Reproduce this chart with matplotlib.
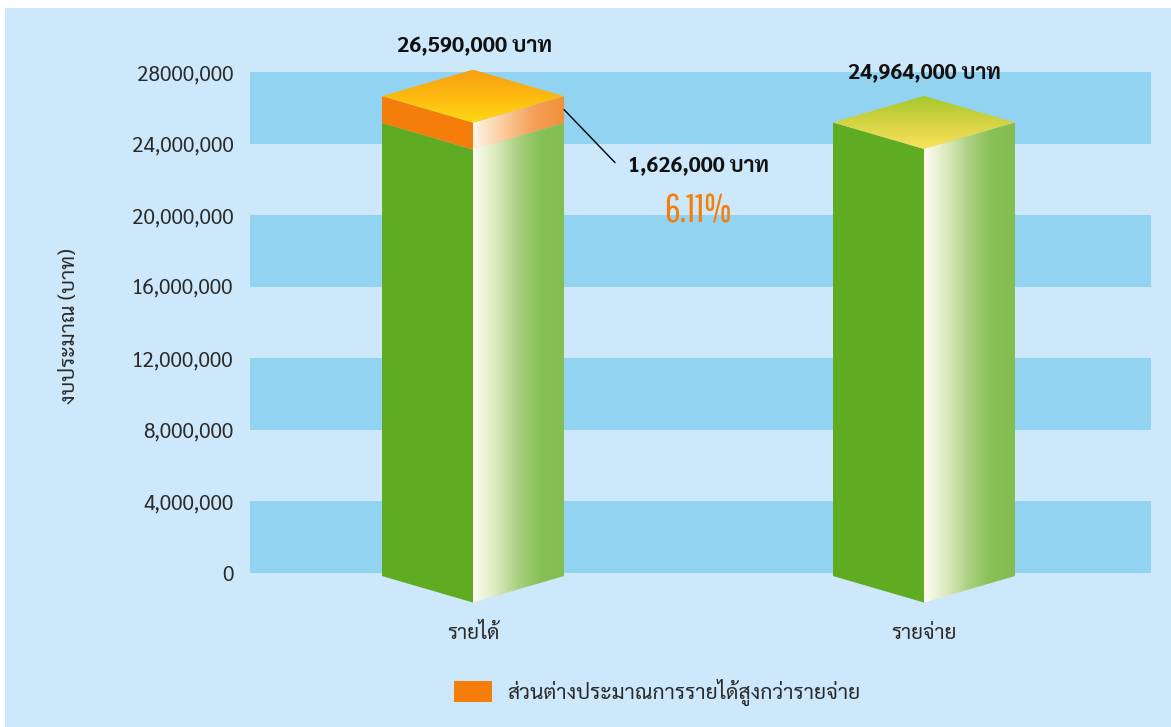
import numpy as np
import matplotlib
matplotlib.use('Agg')
import logging
logging.getLogger('matplotlib.font_manager').setLevel(logging.ERROR)
import matplotlib.pyplot as plt
from matplotlib.colors import LinearSegmentedColormap
from matplotlib.patches import Polygon, Rectangle, Patch

categories = ['รายได้', 'รายจ่าย']
green_heights = [25150000, 25180000]
orange_heights = [1500000, 0]
value_labels = ['26,590,000 บาท', '24,964,000 บาท']
diff_label = '1,626,000 บาท'
pct_label = '6.11%'
y_ticks = [0, 4000000, 8000000, 12000000, 16000000, 20000000, 24000000, 28000000]
y_tick_labels = ['0', '4,000,000', '8,000,000', '12,000,000', '16,000,000',
                 '20,000,000', '24,000,000', '28000,000']
bands = [(0, 4000000), (8000000, 12000000), (16000000, 20000000), (24000000, 28000000)]
y_title = 'งบประมาณ (บาท)'
legend_label = 'ส่วนต่างประมาณการรายได้สูงกว่ารายจ่าย'

W, H = 1171, 727
FONT = ['Sarabun', 'FreeSerif', 'DejaVu Sans']
plt.rcParams['font.family'] = FONT

fig = plt.figure(figsize=(W / 100, H / 100), dpi=100, facecolor='white')
fig.add_artist(Rectangle((5 / W, 0), 1166 / W, 719 / H, transform=fig.transFigure,
                         facecolor='#CDE8FA', edgecolor='none', zorder=-10))
ax = fig.add_axes([250 / W, 1 - 573 / H, 901 / W, 501 / H])
ax.patch.set_visible(False)
for s in ax.spines.values():
    s.set_visible(False)

XLIM = (-223 / 451, 678 / 451)
YLIM = (0, 28000000)
half_w = 91 / 451
depth = 26.5 / 501 * 28000000
base = -170000

for lo, hi in bands:
    ax.axhspan(lo, hi, facecolor='#92D3F2', edgecolor='none', zorder=1)


def cmap(*cols):
    return LinearSegmentedColormap.from_list('c', cols)


def grad_poly(pts, cm, vertical=False, z=3):
    poly = Polygon(pts, closed=True, facecolor='none', edgecolor='none',
                   transform=ax.transData, clip_on=False)
    ax.add_patch(poly)
    xs, ys = zip(*pts)
    g = np.linspace(0, 1, 256)
    arr = g[:, None] if vertical else g[None, :]
    im = ax.imshow(arr, cmap=cm, extent=(min(xs), max(xs), min(ys), max(ys)), origin='lower',
                   aspect='auto', zorder=z, interpolation='bilinear')
    im.set_clip_box(fig.bbox)
    im.set_clip_path(poly)


right_green = cmap('#FDFDF2', '#DCE9BE', '#A9CF7F', '#86C056', '#84BE52')
right_orange = cmap('#FFF6E8', '#FBCB9C', '#F5A05A', '#F09239')
top_orange = cmap('#FFDA14', '#FDB910', '#F79F12')
top_green = cmap('#FBE25A', '#D5D343', '#A5C82B')

for i, (g, o) in enumerate(zip(green_heights, orange_heights)):
    left, right = i - half_w, i + half_w
    ax.add_patch(Polygon([(left, base), (i, base - depth), (i, g - depth), (left, g)],
                         facecolor='#5FAC23', edgecolor='none', zorder=3, clip_on=False))
    grad_poly([(i, base - depth), (right, base), (right, g), (i, g - depth)], right_green)
    top = g + o
    if o:
        ax.add_patch(Polygon([(left, g), (i, g - depth), (i, top - depth), (left, top)],
                             facecolor='#F57D0A', edgecolor='none', zorder=3, clip_on=False))
        grad_poly([(i, g - depth), (right, g), (right, top), (i, top - depth)], right_orange)
    grad_poly([(left, top), (i, top - depth), (right, top), (i, top + depth)],
              top_orange if o else top_green, vertical=True)

tops = [g + o for g, o in zip(green_heights, orange_heights)]
ax.annotate(value_labels[0], xy=(0, tops[0] + depth), xytext=(2, 23), textcoords='offset pixels',
            ha='center', va='center', fontsize=15.6, fontweight='bold', color='#111111', zorder=6,
            annotation_clip=False)
ax.annotate(value_labels[1], xy=(1, tops[1] + depth), xytext=(0, 22), textcoords='offset pixels',
            ha='center', va='center', fontsize=15.4, fontweight='bold', color='#111111', zorder=6,
            annotation_clip=False)
anchor = (half_w, green_heights[0] + orange_heights[0] / 2)
ax.annotate('', xy=anchor, xytext=(51, -53), textcoords='offset pixels',
            arrowprops=dict(arrowstyle='-', color='black', lw=1, shrinkA=0, shrinkB=0), zorder=6)
ax.annotate(diff_label, xy=anchor, xytext=(134, -57), textcoords='offset pixels',
            ha='center', va='center', fontsize=15.4, fontweight='bold', color='#111111', zorder=6)
ax.annotate(pct_label, xy=anchor, xytext=(134, -102), textcoords='offset pixels',
            ha='center', va='center', fontsize=28, color='#F57D0A', zorder=6,
            family=['Pathway Gothic One', 'Liberation Sans Narrow', 'DejaVu Sans'])

ax.set_xlim(*XLIM)
ax.set_ylim(*YLIM)
ax.set_yticks(y_ticks, y_tick_labels, fontsize=15, color='#2A2A2A')
ax.set_xticks([0, 1], categories, fontsize=15, color='#2A2A2A')
ax.tick_params(axis='y', length=0, pad=12)
ax.tick_params(axis='x', length=0, pad=36)

fig.text(69 / W, 1 - 326 / H, y_title, rotation=90, ha='center', va='center',
         fontsize=15.2, color='#2A2A2A')

fs = 15.2
leg = fig.legend(handles=[Patch(facecolor='#F57D0A', edgecolor='none', label=legend_label)],
                 loc='center left', bbox_to_anchor=(437 / W, 1 - 692 / H), frameon=False,
                 fontsize=fs, handlelength=38 * 0.72 / fs, handleheight=24 * 0.72 / fs,
                 handletextpad=15 * 0.72 / fs, borderpad=0.3)
for t in leg.get_texts():
    t.set_color('#2A2A2A')

fig.savefig('out.png', dpi=100)
